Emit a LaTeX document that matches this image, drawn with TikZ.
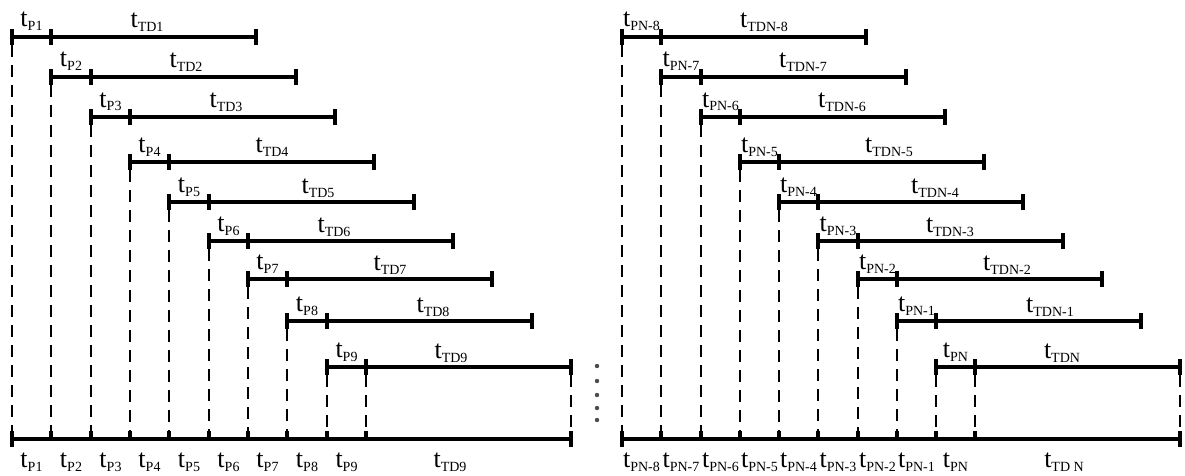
\documentclass[tikz,border=0pt]{standalone}
\usepackage{fontspec}
\setmainfont{Liberation Serif}
\newcommand{\tlab}[1]{{\fontsize{26}{26}\selectfont t}\raisebox{-4pt}{\fontsize{14}{14}\selectfont #1}}
\begin{document}
\begin{tikzpicture}[x=1pt,y=-1pt,
  seg/.style={line width=3.2pt},
  tickmark/.style={line width=3.6pt},
  vdash/.style={line width=2.5pt, dash pattern=on 12pt off 8pt},
  lbl/.style={anchor=base, inner sep=0pt},
  dotmark/.style={fill=black!70, draw=none}]
\useasboundingbox (0,0) rectangle (1185,476);
\def\LX{{12,51,91,130,169,209,248,287,327,366}}
\def\RX{{622,661,701,740,779,818,858,897,936,975}}
\def\RY{{0,37,77,117,162,202,241,279,321,367}}
\def\LTD{{0,147,186,226,272,318,334,390,433,451}}
\def\RTD{{0,764,803,842,889,935,950,1007,1050,1062}}
% rows
\foreach \i in {1,...,9}{
  \pgfmathsetmacro\y{\RY[\i]}
  \pgfmathsetmacro\xa{\LX[\i-1]}
  \pgfmathsetmacro\xb{\LX[\i]}
  \pgfmathsetmacro\xc{\LX[\i]+205}
  \pgfmathsetmacro\ra{\RX[\i-1]}
  \pgfmathsetmacro\rb{\RX[\i]}
  \pgfmathsetmacro\rc{\RX[\i]+205}
  \pgfmathsetmacro\lt{\LTD[\i]}
  \pgfmathsetmacro\rt{\RTD[\i]}
  \pgfmathtruncatemacro\k{9-\i}
  % left
  \coordinate (La\i) at (\xa,\y);
  \coordinate (Lb\i) at (\xb,\y);
  \coordinate (Lc\i) at (\xc,\y);
  \coordinate (Ld\i) at (\xa,439);
  \draw[seg] (La\i) -- (Lc\i);
  \foreach \p in {La\i,Lb\i,Lc\i}{\draw[tickmark] ([yshift=8pt]\p) -- ([yshift=-8pt]\p);}
  \draw[vdash] ([yshift=-8pt]La\i) -- (Ld\i);
  \draw[tickmark] (Ld\i) -- ([yshift=8pt]Ld\i);
  \node[lbl] (LP\i) at ({(\xa+\xb)/2},\y-10) {\tlab{P\i}};
  \node[lbl] (LT\i) at (\lt,\y-9) {\tlab{TD\i}};
  \node[lbl] (LB\i) at ({(\xa+\xb)/2},467) {\tlab{P\i}};
  % right
  \coordinate (Ra\i) at (\ra,\y);
  \coordinate (Rb\i) at (\rb,\y);
  \coordinate (Rc\i) at (\rc,\y);
  \coordinate (Rd\i) at (\ra,439);
  \draw[seg] (Ra\i) -- (Rc\i);
  \foreach \p in {Ra\i,Rb\i,Rc\i}{\draw[tickmark] ([yshift=8pt]\p) -- ([yshift=-8pt]\p);}
  \draw[vdash] ([yshift=-8pt]Ra\i) -- (Rd\i);
  \draw[tickmark] (Rd\i) -- ([yshift=8pt]Rd\i);
  \ifnum\k>0
    \node[lbl] (RP\i) at ({(\ra+\rb)/2},\y-10) {\tlab{PN-\k}};
    \node[lbl] (RT\i) at (\rt,\y-9) {\tlab{TDN-\k}};
    \node[lbl] (RB\i) at ({(\ra+\rb)/2},467) {\tlab{PN-\k}};
  \else
    \node[lbl] (RP\i) at ({(\ra+\rb)/2},\y-10) {\tlab{PN}};
    \node[lbl] (RT\i) at (\rt,\y-9) {\tlab{TDN}};
    \node[lbl] (RB\i) at ({(\ra+\rb)/2},467) {\tlab{PN}};
  \fi
}
% extra dashed lines from last rows
\coordinate (Le1) at (366,439);
\coordinate (Le2) at (571,439);
\coordinate (Re1) at (975,439);
\coordinate (Re2) at (1180,439);
\draw[vdash] ([yshift=-8pt]Lb9) -- (Le1);
\draw[vdash] ([yshift=-8pt]Lc9) -- (Le2);
\draw[vdash] ([yshift=-8pt]Rb9) -- (Re1);
\draw[vdash] ([yshift=-8pt]Rc9) -- (Re2);
\draw[tickmark] (Le1) -- ([yshift=8pt]Le1);
\draw[tickmark] (Re1) -- ([yshift=8pt]Re1);
% axes
\draw[seg] (Ld1) -- (Le2);
\draw[seg] (Rd1) -- (Re2);
\foreach \p in {Ld1,Le2,Rd1,Re2}{\draw[tickmark] ([yshift=8pt]\p) -- ([yshift=-8pt]\p);}
\node[lbl] (LBT) at (450,467) {\tlab{TD9}};
\node[lbl] (RBT) at (1064,467) {\tlab{TD N}};
% dots
\foreach \d/\yy in {1/366,2/381,3/395,4/408,5/420}{
  \fill[dotmark] (597,\yy) circle (2.2pt) coordinate (dot\d);
}
\end{tikzpicture}
\end{document}
